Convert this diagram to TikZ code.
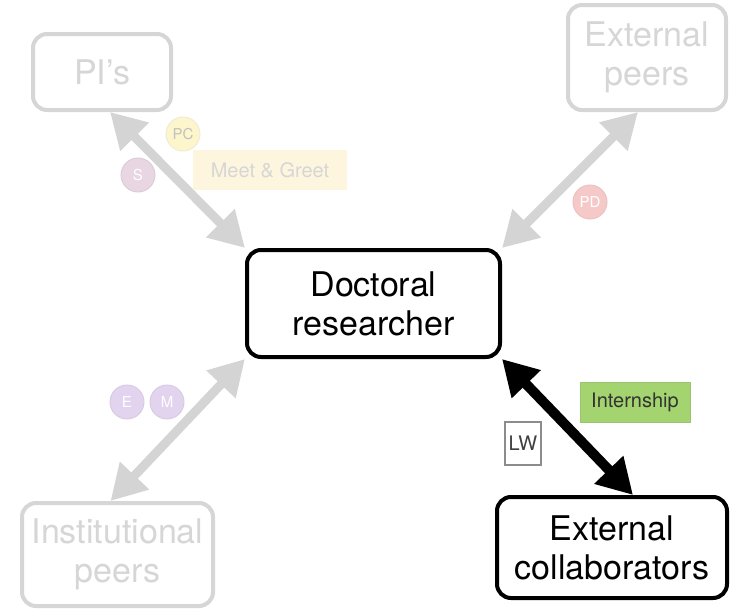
\documentclass[tikz,border=0pt]{standalone}
\usepackage{fontspec}
\setmainfont{TeX Gyre Heros}
\usetikzlibrary{arrows.meta}

\definecolor{fadegray}{HTML}{D6D6D6}
\definecolor{arrowgray}{HTML}{D4D4D4}
\definecolor{pcyellow}{HTML}{FDF6CC}
\definecolor{smauve}{HTML}{E8D6E3}
\definecolor{pdred}{HTML}{F6C9C9}
\definecolor{emlilac}{HTML}{E2D4EE}
\definecolor{meetfill}{HTML}{FEF5DE}
\definecolor{internfill}{HTML}{A3D46F}

\begin{document}
\begin{tikzpicture}[
  x=1pt, y=-1pt,
  actor/.style={draw=black, rounded corners=14pt, line width=4pt,
                align=center, inner sep=0pt, fill=white,
                font=\fontsize{34}{39}\selectfont},
  faded/.style={actor, draw=fadegray, text=fadegray},
  link/.style={{Triangle[length=35pt,width=38pt]}-{Triangle[length=35pt,width=38pt]},
               line width=9pt, draw=arrowgray},
  strong/.style={link, draw=black, line width=10pt},
  badge/.style={circle, minimum size=34pt, inner sep=0pt, text=white,
                font=\fontsize{15}{15}\selectfont, line width=1pt},
  tag/.style={inner sep=0pt, font=\fontsize{20}{20}\selectfont}
]
\useasboundingbox (0,0) rectangle (731,608);

% Actors
\node[actor, minimum width=253pt, minimum height=107pt] (phd) at (373.5,303.5) {Doctoral\\researcher};
\node[faded, minimum width=138pt, minimum height=76pt] (pis) at (102,72) {PI’s};
\node[faded, minimum width=158pt, minimum height=105pt] (peers) at (647,57.5) {External\\peers};
\node[faded, minimum width=191pt, minimum height=103pt] (inst) at (117.5,554.5) {Institutional\\peers};
\node[actor, minimum width=230pt, minimum height=101pt] (collab) at (612,547.5) {External\\collaborators};

% Links
\draw[link] (phd.north west) -- ([xshift=8pt]pis.south);
\draw[link] (phd.north east) -- ([xshift=-9pt]peers.south);
\draw[link] (phd.south west) -- ([xshift=-7pt]inst.north);
\draw[strong] (phd.south east) -- ([xshift=21pt]collab.north);

% Badges
\node[badge, fill=pcyellow, draw=pcyellow!80!gray!60, text=fadegray!90!black] (pc) at (183,134) {PC};
\node[badge, fill=smauve, draw=smauve!90!gray] (s) at (138,175) {S};
\node[badge, fill=pdred, draw=pdred!90!gray] (pd) at (590,202) {PD};
\node[badge, fill=emlilac, draw=emlilac!90!gray] (e) at (127,402) {E};
\node[badge, fill=emlilac, draw=emlilac!90!gray] (m) at (167,402) {M};

% Activity tags
\node[tag, fill=meetfill, text=fadegray, minimum width=154pt, minimum height=40pt] (meet) at (270,170) {Meet \& Greet};
\node[tag, fill=internfill, draw=internfill!80!gray, line width=0.8pt, text=black!80,
      minimum width=110pt, minimum height=40pt] (intern) at (635,402) {Internship};
\node[tag, fill=white, draw=black!45, line width=1.5pt, text=black!75,
      minimum width=36pt, minimum height=43pt] (lw) at (523,443.5) {LW};

\end{tikzpicture}
\end{document}
